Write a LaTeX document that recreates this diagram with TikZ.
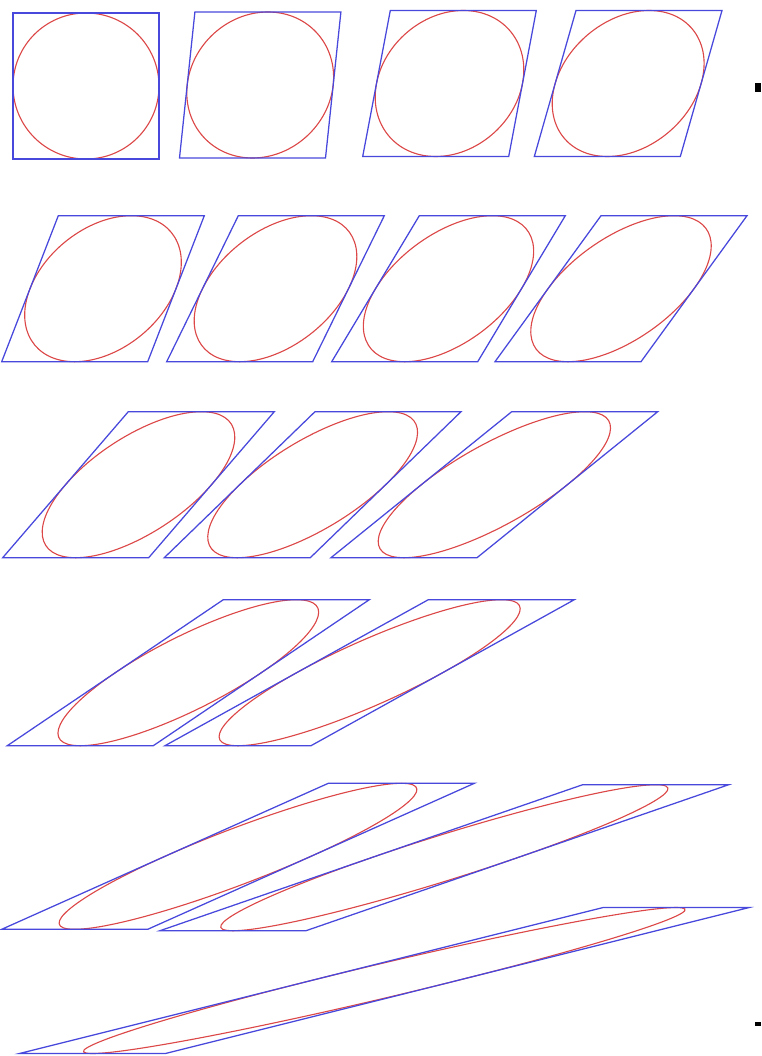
\documentclass[tikz,border=0pt]{standalone}
\usepackage[HTML]{xcolor}
\usepackage{tikz}
\definecolor{frameblue}{HTML}{4848DC}
\definecolor{ovalred}{HTML}{DC4848}

\begin{document}
\begin{tikzpicture}[x=0.025cm, y=-0.025cm,
  frame/.style={draw=frameblue, line width=0.9pt, line join=miter},
  oval/.style={draw=ovalred, line width=0.8pt}]
\useasboundingbox (0,0) rectangle (761,1056);

% Sheared squares: bottom-left corner (x,y) and horizontal offset of the top edge
\foreach \bx/\by/\d in {13/159/0, 179.5/158/15.4, 362.7/156.5/27.6, 534.3/156.5/41.7,
  1.7/361.7/56.6, 166.7/361.7/71.6, 331.7/361.7/87.6, 495/361.7/106,
  2.7/557.7/125.6, 164.3/557.7/150.7, 331/557.7/180.7,
  7.3/745.7/216, 165/745.7/263.3,
  1.7/929.3/326.6, 160/930.7/422.7,
  19.5/1053.5/583.6}{
  \pgfmathsetmacro\s{\d/146}
  \begin{scope}[shift={(\bx,\by)}, xslant=\s]
    \draw[oval] (73,-73) circle (73);
    \draw[frame] (0,0) -- (146,0) -- (146,-146) -- (0,-146) -- cycle;
  \end{scope}
}

% marks at the right edge
\fill (755,83) rectangle (761,92);
\fill (755,1022) rectangle (761,1026);
\end{tikzpicture}
\end{document}
